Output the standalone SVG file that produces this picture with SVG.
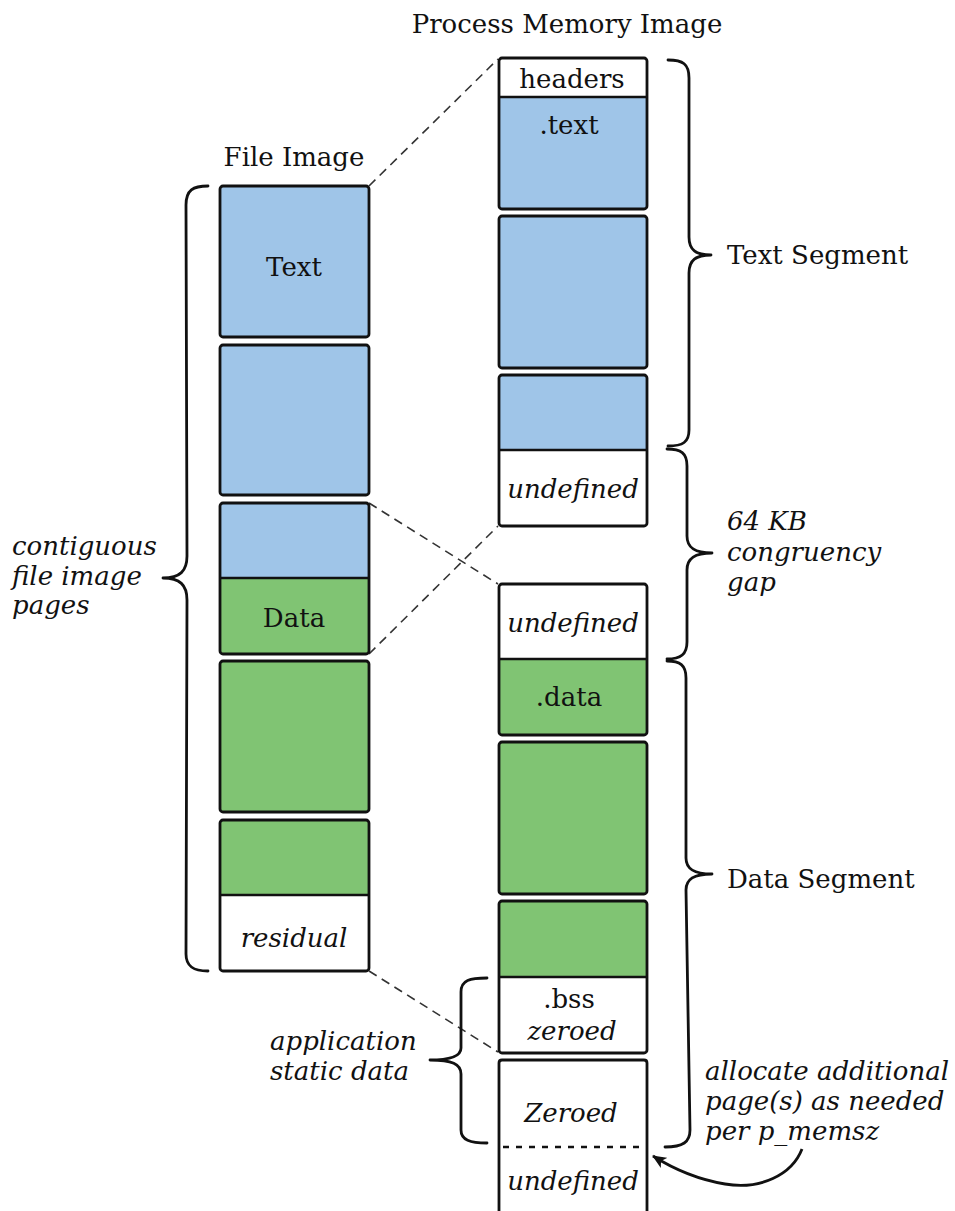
<svg xmlns="http://www.w3.org/2000/svg" width="955" height="1211" viewBox="0 0 955 1211">
<style>
.box{stroke:#111;stroke-width:2.8;fill:none}
.div{stroke:#111;stroke-width:2.4}
.blue{fill:#9fc5e8}
.green{fill:#80c473}
.white{fill:#ffffff}
.t{font-family:"DejaVu Serif","Liberation Serif",serif;font-size:26px;fill:#111}
.i{font-style:italic}
.c{text-anchor:middle}
.brace{fill:none;stroke:#111;stroke-width:2.8;stroke-linecap:round;stroke-linejoin:round}
.dash{stroke:#333;stroke-width:1.6;stroke-dasharray:9 6;fill:none}
</style>
<defs>
<marker id="ah" viewBox="0 0 14 12" refX="13" refY="6" markerWidth="14" markerHeight="12" markerUnits="userSpaceOnUse" orient="auto">
<path d="M0,0 L14,6 L0,12 L3.5,6 Z" fill="#111"/>
</marker>
</defs>
<rect width="955" height="1211" fill="#fff"/>

<g id="titles">
<text class="t c" x="567" y="33">Process Memory Image</text>
<text class="t c" x="294" y="166">File Image</text>
</g>

<g id="connectors">
<line class="dash" x1="369" y1="186" x2="498" y2="59"/>
<line class="dash" x1="369" y1="503" x2="498" y2="584"/>
<line class="dash" x1="369" y1="654" x2="498" y2="526"/>
<line class="dash" x1="369" y1="971" x2="498" y2="1052"/>
<path d="M802,1149 C792,1175 760,1190 725,1184 C695,1179 672,1168 653,1156" fill="none" stroke="#111" stroke-width="2.8" marker-end="url(#ah)"/>
</g>

<g id="file-text">
<rect class="blue" x="220" y="186" width="149" height="151"/>
<rect class="box" x="220" y="186" width="149" height="151" rx="3"/>
<text class="t c" x="294" y="276">Text</text>
</g>
<g id="file-text-2">
<rect class="blue" x="220" y="345" width="149" height="150"/>
<rect class="box" x="220" y="345" width="149" height="150" rx="3"/>
</g>
<g id="file-text-data">
<rect class="blue" x="220" y="503" width="149" height="75"/>
<rect class="green" x="220" y="578" width="149" height="76"/>
<line class="div" x1="220" y1="578" x2="369" y2="578"/>
<rect class="box" x="220" y="503" width="149" height="151" rx="3"/>
<text class="t c" x="294" y="627">Data</text>
</g>
<g id="file-data-2">
<rect class="green" x="220" y="661" width="149" height="151"/>
<rect class="box" x="220" y="661" width="149" height="151" rx="3"/>
</g>
<g id="file-data-residual">
<rect class="green" x="220" y="820" width="149" height="75"/>
<rect class="white" x="220" y="895" width="149" height="76"/>
<line class="div" x1="220" y1="895" x2="369" y2="895"/>
<rect class="box" x="220" y="820" width="149" height="151" rx="3"/>
<text class="t c i" x="294" y="947">residual</text>
</g>

<g id="mem-headers-text">
<rect class="white" x="499" y="58" width="148" height="39"/>
<rect class="blue" x="499" y="97" width="148" height="112"/>
<line class="div" x1="499" y1="97" x2="647" y2="97"/>
<rect class="box" x="499" y="58" width="148" height="151" rx="3"/>
<text class="t c" x="572" y="88">headers</text>
<text class="t c" x="569" y="134">.text</text>
</g>
<g id="mem-text-2">
<rect class="blue" x="499" y="216" width="148" height="152"/>
<rect class="box" x="499" y="216" width="148" height="152" rx="3"/>
</g>
<g id="mem-text-undef">
<rect class="blue" x="499" y="375" width="148" height="75"/>
<rect class="white" x="499" y="450" width="148" height="76"/>
<line class="div" x1="499" y1="450" x2="647" y2="450"/>
<rect class="box" x="499" y="375" width="148" height="151" rx="3"/>
<text class="t c i" x="573" y="498">undefined</text>
</g>
<g id="mem-undef-data">
<rect class="white" x="499" y="584" width="148" height="75"/>
<rect class="green" x="499" y="659" width="148" height="76"/>
<line class="div" x1="499" y1="659" x2="647" y2="659"/>
<rect class="box" x="499" y="584" width="148" height="151" rx="3"/>
<text class="t c i" x="573" y="632">undefined</text>
<text class="t c" x="569" y="706">.data</text>
</g>
<g id="mem-data-2">
<rect class="green" x="499" y="742" width="148" height="152"/>
<rect class="box" x="499" y="742" width="148" height="152" rx="3"/>
</g>
<g id="mem-data-bss">
<rect class="green" x="499" y="901" width="148" height="76"/>
<rect class="white" x="499" y="977" width="148" height="76"/>
<line class="div" x1="499" y1="977" x2="647" y2="977"/>
<rect class="box" x="499" y="901" width="148" height="152" rx="3"/>
<text class="t c" x="569" y="1008">.bss</text>
<text class="t c i" x="572" y="1040">zeroed</text>
</g>
<g id="mem-zeroed-undef">
<rect class="white" x="499" y="1060" width="148" height="160"/>
<path class="box" d="M499,1215 L499,1063 Q499,1060 502,1060 L644,1060 Q647,1060 647,1063 L647,1215"/>
<line x1="503" y1="1147" x2="645" y2="1147" stroke="#111" stroke-width="2.4" stroke-dasharray="6 7"/>
<text class="t c i" x="571" y="1122">Zeroed</text>
<text class="t c i" x="573" y="1190">undefined</text>
</g>

<g id="brace-file">
<path class="brace" d="M208,186 C193,186 186,190 186,205 L187,556 C187,571 180,578 163,578 C180,578 187,585 187,600 L186,954 C186,966 193,971 208,971"/>
<text class="t i" x="12" y="555">contiguous</text>
<text class="t i" x="12" y="585">file image</text>
<text class="t i" x="12" y="614">pages</text>
</g>
<g id="brace-text-segment">
<path class="brace" d="M668,60 C683,60 689,64 689,78 L689,237 C689,250 696,255 711,255 C696,255 689,260 689,273 L689,430 C689,442 683,446 668,446"/>
<text class="t" x="727" y="264">Text Segment</text>
</g>
<g id="brace-gap">
<path class="brace" d="M667,449 C681,449 687,453 687,466 L687,536 C687,548 695,553 712,553 C695,553 687,558 687,570 L687,642 C687,654 681,659 667,659"/>
<text class="t i" x="727" y="530">64 KB</text>
<text class="t i" x="727" y="561">congruency</text>
<text class="t i" x="727" y="591">gap</text>
</g>
<g id="brace-data-segment">
<path class="brace" d="M667,661 C680,661 686,665 686,678 L686,858 C686,869 694,874 712,874 C694,874 686,879 686,890 L690,1130 C690,1142 683,1147 665,1147"/>
<text class="t" x="727" y="888">Data Segment</text>
</g>
<g id="brace-static">
<path class="brace" d="M487,978 C470,978 461,980 461,992 L461,1048 C461,1056 452,1060 430,1060 C452,1060 461,1064 461,1074 L461,1130 C461,1140 470,1143 487,1143"/>
<text class="t i" x="270" y="1050">application</text>
<text class="t i" x="270" y="1080">static data</text>
</g>
<g id="note-allocate">
<text class="t i" x="705" y="1080">allocate additional</text>
<text class="t i" x="705" y="1110">page(s) as needed</text>
<text class="t i" x="705" y="1140">per p_memsz</text>
</g>
</svg>
